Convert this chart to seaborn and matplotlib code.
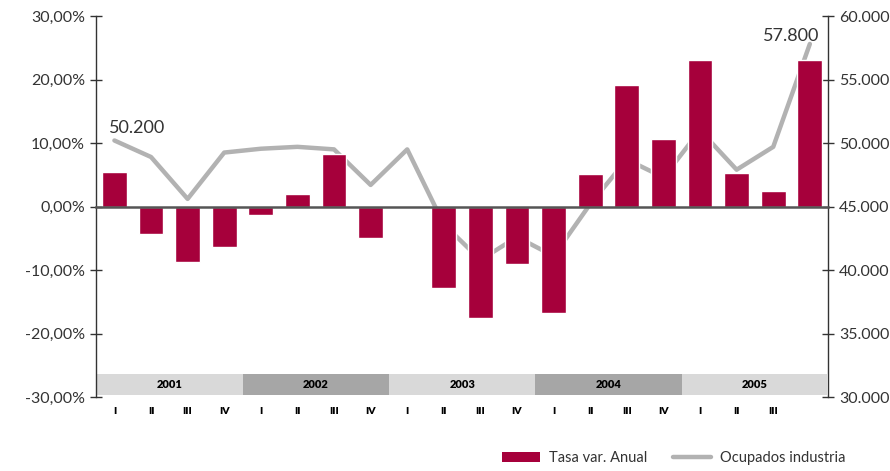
import numpy as np
import pandas as pd
import matplotlib
matplotlib.use("Agg")
import matplotlib.pyplot as plt
import seaborn as sns
from matplotlib.patches import Patch, Rectangle
from matplotlib.lines import Line2D
from matplotlib.ticker import FuncFormatter

#---------------------------------
# data
#---------------------------------
years = ["2001", "2002", "2003", "2004", "2005"]
quarter_labels = ["I", "II", "III", "IV", "I", "II", "III", "IV", "I", "II",
                  "III", "IV", "I", "II", "III", "IV", "I", "II", "III", ""]
tasa = [5.4, -4.4, -8.7, -6.3, -1.4, 1.9, 8.3, -4.9, -0.3, -12.9,
        -17.5, -9.0, -16.8, 5.2, 19.2, 10.6, 23.0, 5.35, 2.4, 23.1]
ocupados = [50200, 48900, 45600, 49250, 49550, 49700, 49500, 46700, 49500, 43600,
            40800, 42600, 41100, 45200, 48700, 47300, 51000, 47900, 49700, 57800]

df = pd.DataFrame({"periodo": range(len(tasa)), "tasa": tasa, "ocupados": ocupados})

BAR = "#A6003B"
LINE = "#B2B2B2"
TXT = "#333333"

sns.set_style("white")
plt.rcParams["font.family"] = ["Lato", "DejaVu Sans"]

fig = plt.figure(figsize=(8.9, 4.71), dpi=100)
ax = fig.add_axes([0.108, 0.157, 0.8225, 0.809])
ax2 = ax.twinx()

#---------------------------------
# bars + line
#---------------------------------
sns.barplot(data=df, x="periodo", y="tasa", color=BAR, saturation=1,
            width=0.68, errorbar=None, ax=ax)
sns.lineplot(data=df, x="periodo", y="ocupados", color=LINE, lw=3.2, ax=ax2)

# bars above the line
ax.set_zorder(ax2.get_zorder() + 1)
ax.patch.set_visible(False)

n = len(tasa)
ax.set_xlim(-0.5, n - 0.5)
ax.set_ylim(-30, 30)
ax2.set_ylim(30000, 60000)
ax.set_xlabel("")
ax.set_ylabel("")
ax2.set_xlabel("")
ax2.set_ylabel("")

# axes / spines
for a in (ax, ax2):
    for s in a.spines.values():
        s.set_color(TXT)
        s.set_linewidth(1)
    a.spines["top"].set_visible(False)
ax.spines["right"].set_visible(False)
ax2.spines["left"].set_visible(False)
ax2.spines["bottom"].set_visible(False)
ax.spines["bottom"].set_position(("data", 0))
ax.spines["bottom"].set_color("#555555")
ax.spines["bottom"].set_linewidth(1.8)

ax.set_xticks(np.arange(0.5, n - 1, 1))
ax.tick_params(axis="x", direction="inout", length=5, width=1, colors=TXT, labelbottom=False)
ax.set_yticks(np.arange(-30, 31, 10))
ax.yaxis.set_major_formatter(FuncFormatter(lambda v, p: f"{v:.2f}%".replace(".", ",")))
ax.tick_params(axis="y", direction="inout", length=8, width=1, colors=TXT, labelsize=11.5, pad=4)

ax2.set_yticks(np.arange(30000, 60001, 5000))
ax2.yaxis.set_major_formatter(FuncFormatter(lambda v, p: f"{int(v):,}".replace(",", ".")))
ax2.tick_params(axis="y", direction="inout", length=8, width=1, colors=TXT, labelsize=11.5, pad=4)

#---------------------------------
# year bands and quarter labels
#---------------------------------
band_top, band_bot = -26.3, -29.6
for i, y in enumerate(years):
    col = "#D9D9D9" if i % 2 == 0 else "#A6A6A6"
    ax.add_patch(Rectangle((i * 4 - 0.5, band_bot), 4, band_top - band_bot,
                           facecolor=col, edgecolor="none", zorder=0.5))
    ax.text(i * 4 + 1.5, (band_top + band_bot) / 2, y, ha="center", va="center",
            fontsize=8, fontweight="heavy", color="black")

xt = ax.get_xaxis_transform()
for i, q in enumerate(quarter_labels):
    ax.text(i, -0.037, q, transform=xt, ha="center", va="center",
            fontsize=7.5, fontweight="heavy", color="black")

#---------------------------------
# labels on first / last point
#---------------------------------
ax2.annotate(f"{ocupados[0]:,}".replace(",", "."), xy=(0, ocupados[0]), xytext=(-4, 3),
             textcoords="offset points", ha="left", va="bottom", fontsize=13, color=TXT)
ax2.annotate(f"{ocupados[-1]:,}".replace(",", "."), xy=(n - 1, ocupados[-1]), xytext=(7, 0),
             textcoords="offset points", ha="right", va="bottom", fontsize=13, color=TXT)

#---------------------------------
# legend
#---------------------------------
handles = [Patch(facecolor=BAR, edgecolor="none"), Line2D([], [], color=LINE, lw=3.2)]
fig.legend(handles, ["Tasa var. Anual", "Ocupados industria"], loc="center",
           bbox_to_anchor=(0.757, 0.027), ncol=2, frameon=False, fontsize=10.5,
           handlelength=2.6, handletextpad=0.6, columnspacing=1.8, labelcolor=TXT)

fig.savefig("out.png", dpi=100)
